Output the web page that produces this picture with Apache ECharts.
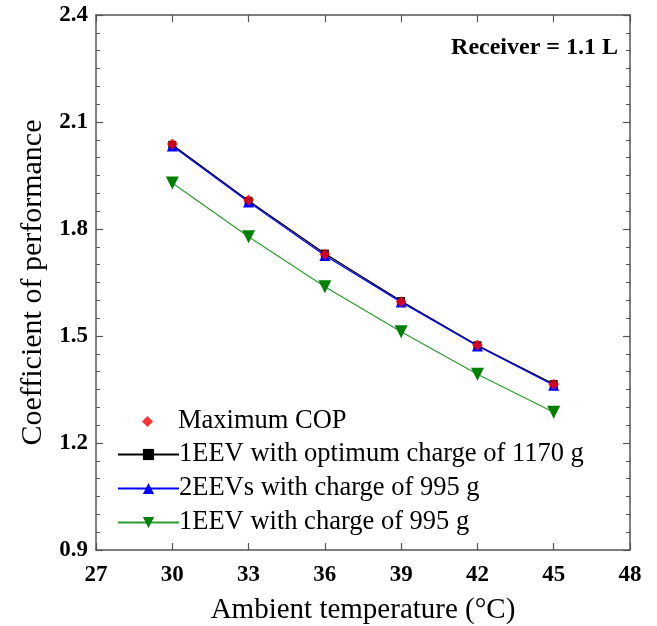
<!DOCTYPE html>
<html><head><meta charset="utf-8">
<script src="https://cdn.jsdelivr.net/npm/echarts@6/dist/echarts.min.js"></script>
<style>html,body{margin:0;padding:0;background:#fff}#c{width:657px;height:626px}</style>
</head><body><div id="c"></div>
<script>
const temps = [30, 33, 36, 39, 42, 45];
const maxCOP = [2.038, 1.881, 1.729, 1.596, 1.475, 1.365];
const eev1Opt = [2.036, 1.879, 1.731, 1.598, 1.474, 1.365];
const eev2 = [2.033, 1.876, 1.726, 1.595, 1.472, 1.362];
const eev1 = [1.929, 1.778, 1.638, 1.512, 1.393, 1.286];
const seriesNames = ['Maximum COP', '1EEV with optimum charge of 1170 g', '2EEVs with charge of 995 g', '1EEV with charge of 995 g'];
const pairs = a => temps.map((t, i) => [t, a[i]]);
const FONT = 'Liberation Serif';
const axisCommon = {
  axisLine: {show: true, onZero: false, lineStyle: {color: '#555', width: 1.5}},
  axisTick: {show: true, inside: true, length: 7, lineStyle: {color: '#555', width: 1.2}},
  splitLine: {show: false}
};
const legendText = {fontFamily: FONT, fontSize: 26.5, color: '#000'};
const chart = echarts.init(document.getElementById('c'));
chart.setOption({
  animation: false,
  backgroundColor: '#fff',
  textStyle: {fontFamily: FONT},
  grid: {left: 96, top: 15, right: 27, bottom: 76, containLabel: false, outerBoundsMode: 'none'},
  xAxis: [
    Object.assign({}, axisCommon, {type: 'value', min: 27, max: 48, interval: 3, position: 'bottom',
      name: 'Ambient temperature (°C)', nameLocation: 'middle', nameGap: 46,
      nameTextStyle: {fontFamily: FONT, fontSize: 29, color: '#000'},
      axisLabel: {fontFamily: FONT, fontSize: 23, fontWeight: 'bold', color: '#000', margin: 14}}),
    Object.assign({}, axisCommon, {type: 'value', min: 27, max: 48, interval: 3, position: 'top',
      axisLabel: {show: false}})
  ],
  yAxis: [
    Object.assign({}, axisCommon, {type: 'value', min: 0.9, max: 2.4, interval: 0.3, position: 'left',
      minorTick: {show: true, splitNumber: 6, length: 4, lineStyle: {color: '#555', width: 1}},
      name: 'Coefficient of performance', nameLocation: 'middle', nameGap: 44,
      nameTextStyle: {fontFamily: FONT, fontSize: 30, color: '#000'},
      axisLabel: {fontFamily: FONT, fontSize: 23, fontWeight: 'bold', color: '#000', margin: 8,
        formatter: v => v.toFixed(1)}}),
    Object.assign({}, axisCommon, {type: 'value', min: 0.9, max: 2.4, interval: 0.3, position: 'right',
      minorTick: {show: true, splitNumber: 6, length: 4, lineStyle: {color: '#555', width: 1}},
      axisLabel: {show: false}})
  ],
  legend: [
    {orient: 'vertical', left: 137, top: 403, itemWidth: 11, itemHeight: 11,
      textStyle: Object.assign({}, legendText, {padding: [0, 0, 0, 20]}),
      data: [{name: seriesNames[0], icon: 'diamond'}]},
    {orient: 'vertical', left: 112, top: 436, itemWidth: 61, itemHeight: 14, itemGap: 7,
      textStyle: Object.assign({}, legendText, {padding: [0, 0, 0, -5]}),
      data: seriesNames.slice(1)}
  ],
  graphic: [{type: 'text', right: 39, top: 36,
    style: {text: 'Receiver = 1.1 L', font: 'bold 24px "Liberation Serif"', fill: '#000'}}],
  series: [
    {name: seriesNames[1], type: 'line', data: pairs(eev1Opt), symbol: 'rect', symbolSize: 8,
      itemStyle: {color: '#000'}, lineStyle: {color: '#000', width: 1.3}, z: 2},
    {name: seriesNames[2], type: 'line', data: pairs(eev2), symbol: 'triangle', symbolSize: 11,
      itemStyle: {color: '#0000ff'}, lineStyle: {color: '#0000ff', width: 1.2}, z: 3},
    {name: seriesNames[3], type: 'line', data: pairs(eev1), symbol: 'triangle', symbolRotate: 180, symbolSize: 13,
      itemStyle: {color: '#008000'}, lineStyle: {color: '#2e9b2e', width: 1.2}, z: 3},
    {name: seriesNames[0], type: 'scatter', data: pairs(maxCOP), symbol: 'diamond', symbolSize: 11,
      itemStyle: {color: '#ff0000'}, z: 5}
  ]
});
</script></body></html>
